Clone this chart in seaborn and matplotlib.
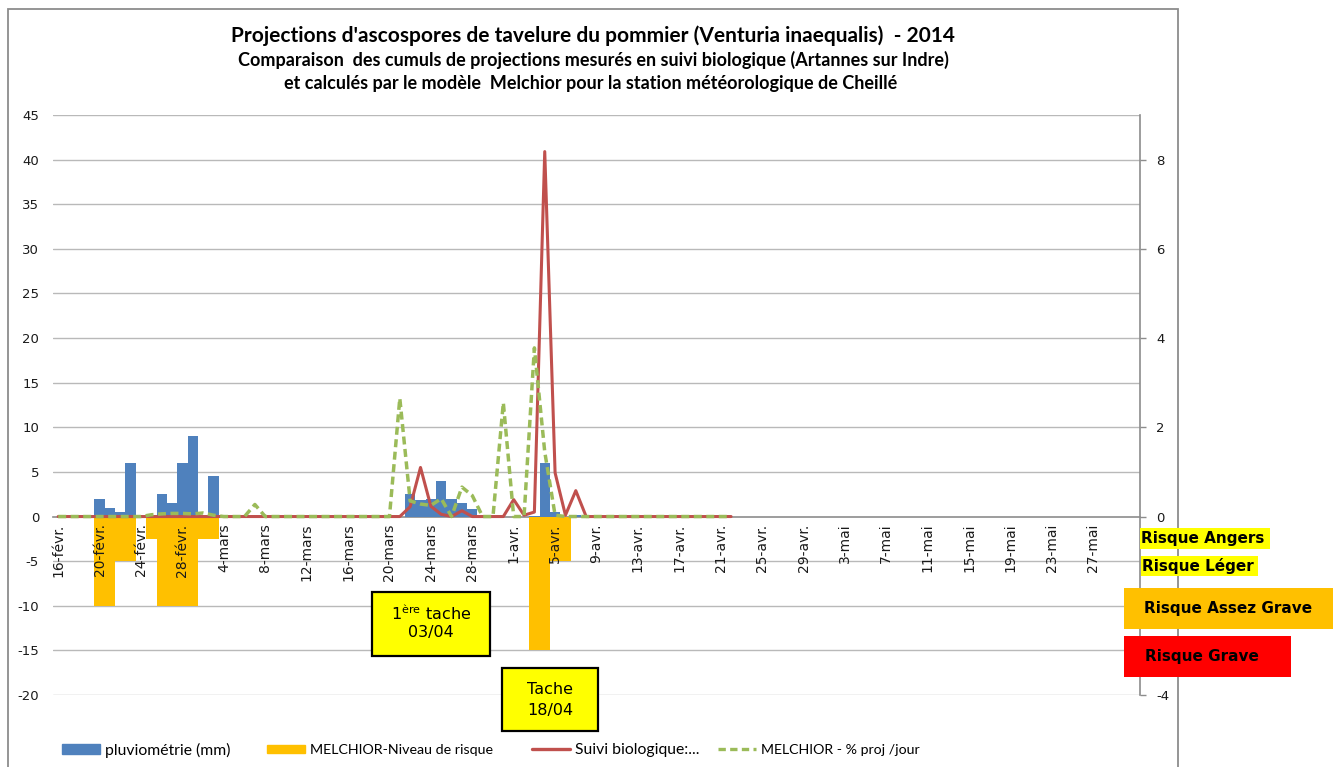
import numpy as np
import pandas as pd
import matplotlib
matplotlib.use("Agg")
import matplotlib.pyplot as plt
import seaborn as sns
from matplotlib.patches import Rectangle, Patch
from matplotlib.lines import Line2D

# ---------------- data ----------------
start_date = "2014-02-16"
tick_labels = ["16-févr.", "20-févr.", "24-févr.", "28-févr.", "4-mars", "8-mars",
               "12-mars", "16-mars", "20-mars", "24-mars", "28-mars", "1-avr.",
               "5-avr.", "9-avr.", "13-avr.", "17-avr.", "21-avr.", "25-avr.",
               "29-avr.", "3-mai", "7-mai", "11-mai", "15-mai", "19-mai",
               "23-mai", "27-mai"]

# days counted from 16 Feb 2014
pluvio_days = [4, 5, 6, 7, 10, 11, 12, 13, 15, 34, 35, 36, 37, 38, 39, 40, 46, 47, 48, 50]
pluvio_mm = [2, 1, 0.5, 6, 2.5, 1.5, 6, 9, 4.5, 2.5, 1.8, 2, 4, 2, 1.5, 0.8, 0.1, 6, 0.5, 0.2]

risk_days = [4, 5, 6, 7, 9, 10, 11, 12, 13, 14, 15, 46, 47, 48, 49]
risk_level = [-10, -10, -5, -5, -2.5, -10, -10, -10, -10, -2.5, -2.5, -15, -15, -5, -5]

# daily series, days 0 .. 65
suivi_bio = [0, 0, 0, 0, 0, 0, 0, 0, 0, 0,
             0, 0, 0, 0, 0, 0, 0, 0, 0, 0,
             0, 0, 0, 0, 0, 0, 0, 0, 0, 0,
             0, 0, 0, 0, 0.22, 1.10, 0.23, 0.05, 0, 0.13,
             0, 0, 0, 0, 0.38, 0.03, 0.10, 8.18, 0.98, 0.03,
             0.58, 0, 0, 0, 0, 0, 0, 0, 0, 0,
             0, 0, 0, 0, 0, 0]
melchior_pct = [0, 0, 0, 0, 0, 0, 0, 0, 0, 0.04,
                0.06, 0.07, 0.07, 0.06, 0.08, 0.03, 0, 0, 0, 0.27,
                0, 0, 0, 0, 0, 0, 0, 0, 0, 0,
                0, 0, 0, 2.65, 0.35, 0.28, 0.25, 0.40, 0, 0.66,
                0.47, 0, 0, 2.55, 0, 0, 3.78, 1.45, 0.03, 0,
                0, 0, 0, 0, 0, 0, 0, 0, 0, 0,
                0, 0, 0, 0, 0, 0]

right_tick_labels = ["-4", "", "0", "2", "4", "6", "8"]

legend_labels = ["pluviométrie (mm)", "MELCHIOR-Niveau de risque",
                 "Suivi biologique:...", "MELCHIOR - % proj /jour"]
risk_labels = ["Risque Angers", "Risque Léger", "Risque Assez Grave", "Risque Grave"]

title1 = "Projections d'ascospores de tavelure du pommier (Venturia inaequalis)  - 2014"
title2 = "Comparaison  des cumuls de projections mesurés en suivi biologique (Artannes sur Indre)"
title3 = "et calculés par le modèle  Melchior pour la station météorologique de Cheillé"

# ---------------- style ----------------
sns.set_theme(style="white")
plt.rcParams['font.family'] = ['DejaVu Sans']
plt.rcParams['axes.unicode_minus'] = False
plt.rcParams['text.color'] = 'black'

BLUE = "#4F81BD"
ORANGE = "#FFC000"
RED = "#C0504D"
GREEN = "#9BBB59"
GRID = "#b9b9b9"
AXC = "#8c8c8c"
TXT = "#1a1a1a"

W, H = 1333, 767
def fx(x):
    return x / W
def fy(y):
    return 1 - y / H

fig = plt.figure(figsize=(W / 100, H / 100), dpi=100)
fig.patch.set_facecolor("white")
ax = fig.add_axes([fx(53), fy(695), (1140 - 53) / W, (695 - 115) / H])
ax.set_facecolor("none")

df_p = pd.DataFrame({"day": pluvio_days, "val": pluvio_mm})
df_r = pd.DataFrame({"day": risk_days, "val": risk_level})
sns.barplot(data=df_p, x="day", y="val", native_scale=True, width=1.0, color=BLUE,
            saturation=1, linewidth=0, errorbar=None, ax=ax, zorder=2)
sns.barplot(data=df_r, x="day", y="val", native_scale=True, width=1.0, color=ORANGE,
            saturation=1, linewidth=0, errorbar=None, ax=ax, zorder=2)

ax.set_xlim(-0.5, 104.5)
ax.set_ylim(-20, 45)
yt = np.arange(-20, 50, 5)
ax.set_yticks(yt)
ax.grid(False)
for v in yt:
    if v != 0:
        ax.axhline(v, color=GRID, lw=1.0, zorder=0.5)
ax.set_axisbelow(False)
for s in ["left", "top", "right"]:
    ax.spines[s].set_visible(False)
ax.spines["bottom"].set_position(("data", 0))
ax.spines["bottom"].set_color(AXC)
ax.spines["bottom"].set_linewidth(1.2)
ax.spines["bottom"].set_zorder(1)
ax.set_xticks(np.arange(0, 4 * len(tick_labels), 4))
ax.set_xticklabels(tick_labels, rotation=90, fontsize=10, color=TXT)
ax.tick_params(axis="x", length=0, pad=5)
ax.tick_params(axis="y", length=0, pad=10, labelsize=9.5, labelcolor=TXT)
ax.set_xlabel("")
ax.set_ylabel("")

ax2 = ax.twinx()
days = np.arange(len(suivi_bio))
sns.lineplot(x=days, y=suivi_bio, ax=ax2, color=RED, lw=2.2, legend=False)
sns.lineplot(x=days, y=melchior_pct, ax=ax2, color=GREEN, lw=2.5, legend=False,
             linestyle=(0, (2.3, 1.3)))
ax2.set_ylim(-4, 9)
ax2.set_yticks(np.arange(-4, 9, 2))
ax2.set_yticklabels(right_tick_labels)
ax2.set_xlim(-0.5, 104.5)
ax2.grid(False)
for s in ["left", "top", "bottom"]:
    ax2.spines[s].set_visible(False)
ax2.spines["right"].set_color(AXC)
ax2.spines["right"].set_linewidth(1.2)
ax2.tick_params(axis="y", length=4.5, width=1, color=AXC, pad=7, labelsize=9.5,
                labelcolor=TXT, right=True)
ax2.set_xlabel("")
ax2.set_ylabel("")

# ---------------- outer border ----------------
fig.add_artist(Rectangle((fx(8), -0.05), (1178 - 8) / W, fy(9) + 0.05,
                         transform=fig.transFigure, fill=False, ec=AXC, lw=1.3, zorder=0.5))

# ---------------- titles ----------------
tfam = ["Lato", "DejaVu Sans"]
fig.text(fx(593), fy(36), title1, ha="center", va="center", fontsize=15,
         fontweight="bold", family=tfam, color="black")
fig.text(fx(593), fy(60), title2, ha="center", va="center", fontsize=13,
         fontweight="bold", family=tfam, color="black")
fig.text(fx(591), fy(84), title3, ha="center", va="center", fontsize=13,
         fontweight="bold", family=tfam, color="black")

# ---------------- annotation boxes ----------------
def box(x0, y0, x1, y1, fc, ec=None, lw=0):
    fig.add_artist(Rectangle((fx(x0), fy(y1)), (x1 - x0) / W, (y1 - y0) / H,
                             transform=fig.transFigure, fc=fc,
                             ec=ec if ec else fc, lw=lw, zorder=5))

box(372, 592, 490, 656, "#FFFF00", "black", 1.6)
fig.text(fx(431), fy(613), "1$^{\\mathrm{ère}}$ tache", ha="center", va="center",
         fontsize=11.5, zorder=6, color="black")
fig.text(fx(431), fy(633), "03/04", ha="center", va="center", fontsize=11.5, zorder=6,
         color="black")
box(502, 668, 598, 731, "#FFFF00", "black", 1.6)
fig.text(fx(550), fy(689), "Tache", ha="center", va="center", fontsize=11.5, zorder=6,
         color="black")
fig.text(fx(550), fy(710), "18/04", ha="center", va="center", fontsize=11.5, zorder=6,
         color="black")

# ---------------- risk labels ----------------
box(1140, 528, 1270, 549, "#FFFF00")
fig.text(fx(1141), fy(539), risk_labels[0], ha="left", va="center", fontsize=11,
         fontweight="bold", zorder=6, color="black")
box(1141, 556, 1258, 576, "#FFFF00")
fig.text(fx(1142), fy(566), risk_labels[1], ha="left", va="center", fontsize=11,
         fontweight="bold", zorder=6, color="black")
box(1124, 588, 1340, 629, ORANGE)
fig.text(fx(1144), fy(608), risk_labels[2], ha="left", va="center", fontsize=11,
         fontweight="bold", zorder=6, color="black")
box(1124, 636, 1291, 677, "#FF0000")
fig.text(fx(1145), fy(656), risk_labels[3], ha="left", va="center", fontsize=11,
         fontweight="bold", zorder=6, color="black")

# ---------------- legend ----------------
lfam = ["Lato", "DejaVu Sans"]
handles = [Patch(facecolor=BLUE, edgecolor=BLUE),
           Patch(facecolor=ORANGE, edgecolor=ORANGE),
           Line2D([0], [0], color=RED, lw=2.4),
           Line2D([0], [0], color=GREEN, lw=2.4, linestyle=(0, (2.2, 1.3)))]
starts = [62, 267, 532, 718]
sizes = [11.3, 10.3, 11.3, 10.2]
for h, lab, xs, fs in zip(handles, legend_labels, starts, sizes):
    hl = 38 / (fs * 100 / 72)
    lg = fig.legend(handles=[h], labels=[lab], loc="center left",
                    bbox_to_anchor=(fx(xs), fy(750)), frameon=False, borderpad=0,
                    borderaxespad=0, handlelength=hl, handleheight=0.55,
                    handletextpad=0.35, prop={"family": lfam, "size": fs})
    for t in lg.get_texts():
        t.set_color("black")

fig.savefig("out.png", dpi=100)
